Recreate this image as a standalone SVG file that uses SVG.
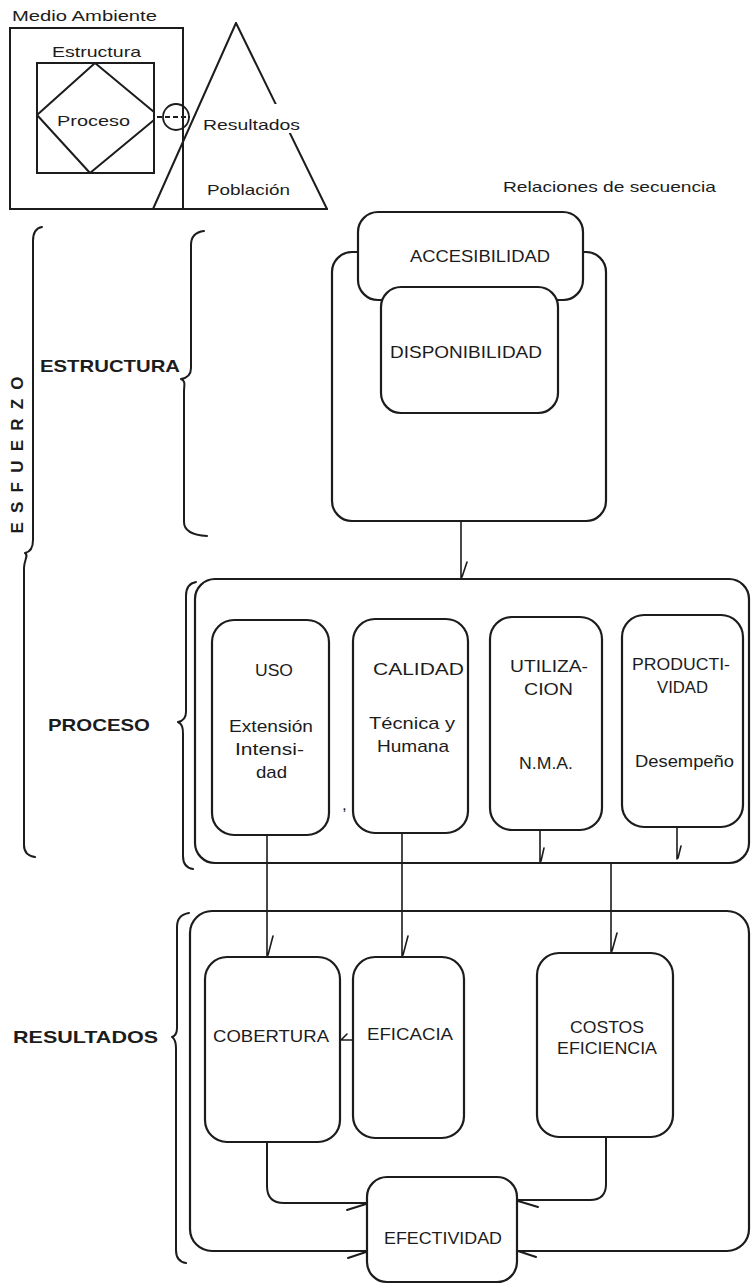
<svg xmlns="http://www.w3.org/2000/svg" width="751" height="1285" viewBox="0 0 751 1285">
  <style>
    .ln { fill: none; stroke: #1c1c1c; stroke-width: 2; stroke-linecap: round; stroke-linejoin: round; }
    .box { fill: #ffffff; stroke: #1c1c1c; stroke-width: 2.2; }
    .thin { fill: none; stroke: #1c1c1c; stroke-width: 1.6; stroke-linecap: round; }
    .t { font-family: "Liberation Sans", Arial, sans-serif; fill: #1c1c1c; font-size: 17px; }
    .s { font-family: "Liberation Sans", Arial, sans-serif; fill: #1c1c1c; font-size: 15px; }
    .b { font-family: "Liberation Sans", Arial, sans-serif; fill: #1c1c1c; font-size: 17px; font-weight: bold; }
  </style>
  <rect x="0" y="0" width="751" height="1285" fill="#ffffff"/>

  <!-- Inset sketch: environment, structure, process, results, population -->
  <g id="inset">
    <text class="s" x="12" y="21" textLength="145" lengthAdjust="spacingAndGlyphs">Medio Ambiente</text>
    <path class="ln" d="M236,23 L327,209 M236,23 L153,209"/>
    <rect x="10" y="28" width="173" height="181" fill="none" stroke="#1c1c1c" stroke-width="2"/>
    <path class="ln" d="M10,209 L327,209"/>
    <text class="s" x="52" y="57" textLength="89" lengthAdjust="spacingAndGlyphs">Estructura</text>
    <rect x="37" y="63" width="117" height="110" fill="none" stroke="#1c1c1c" stroke-width="2"/>
    <path class="ln" d="M95,63 L154,112 M154,120 L90,173 M90,173 L37,115 L95,63"/>
    <text class="s" x="57" y="126" textLength="73" lengthAdjust="spacingAndGlyphs">Proceso</text>
    <circle cx="176" cy="117" r="13" fill="none" stroke="#1c1c1c" stroke-width="1.8"/>
    <path d="M157,117 L190,117" fill="none" stroke="#1c1c1c" stroke-width="1.8" stroke-dasharray="5,3"/>
    <rect x="203" y="104" width="98" height="29" fill="#ffffff"/>
    <text class="s" x="203" y="130" textLength="97" lengthAdjust="spacingAndGlyphs">Resultados</text>
    <text class="s" x="207" y="195" textLength="83" lengthAdjust="spacingAndGlyphs">Población</text>
  </g>

  <text id="relaciones" class="s" x="503" y="192" textLength="213" lengthAdjust="spacingAndGlyphs">Relaciones de secuencia</text>

  <!-- Side labels and braces -->
  <g id="esfuerzo">
    <path class="ln" d="M42,227 C36,228 33,232 33,241 L33,540 C33,548 30,552 25,553 C29,555 24,560 24,568 L24,845 C24,852 28,856 35,857"/>
    <text class="b" transform="translate(23,455) rotate(-90)" x="0" y="0" text-anchor="middle" font-weight="normal" font-size="17" textLength="157" lengthAdjust="spacing">ESFUERZO</text>
  </g>
  <g id="label-estructura">
    <path class="ln" d="M204,231 C196,232 191,236 191,245 L191,368 C191,375 187,378 181,379 C186,381 184,385 184,392 L184,522 C184,530 190,535 207,536"/>
    <text class="b" x="40" y="372" textLength="140" lengthAdjust="spacingAndGlyphs">ESTRUCTURA</text>
  </g>
  <g id="label-proceso">
    <path class="ln" d="M196,582 C190,583 186,587 186,596 L186,712 C186,718 183,721 178,722 C182,724 183,727 183,734 L183,856 C183,864 186,868 193,869"/>
    <text class="b" x="48" y="731" textLength="102" lengthAdjust="spacingAndGlyphs">PROCESO</text>
  </g>
  <g id="label-resultados">
    <path class="ln" d="M189,913 C182,914 177,918 177,927 L177,1028 C177,1034 175,1036 172,1037 C175,1039 176,1042 176,1048 L176,1250 C176,1258 179,1262 186,1263"/>
    <text class="b" x="13" y="1043" textLength="145" lengthAdjust="spacingAndGlyphs">RESULTADOS</text>
  </g>

  <!-- Structure block -->
  <g id="estructura">
    <rect class="box" x="332" y="252" width="274" height="269" rx="20"/>
  </g>
  <g id="accesibilidad">
    <rect class="box" x="358" y="212" width="225" height="88" rx="20"/>
    <text class="t" x="410" y="262" textLength="140" lengthAdjust="spacingAndGlyphs">ACCESIBILIDAD</text>
  </g>
  <g id="disponibilidad">
    <rect class="box" x="381" y="287" width="177" height="126" rx="20"/>
    <text class="t" x="390" y="358" textLength="152" lengthAdjust="spacingAndGlyphs">DISPONIBILIDAD</text>
  </g>

  <!-- Process block -->
  <g id="proceso">
    <rect class="box" x="195" y="579" width="554" height="284" rx="20"/>
  </g>
  <g id="uso">
    <rect class="box" x="212" y="620" width="117" height="215" rx="22"/>
    <text class="t" x="255" y="676" textLength="38" lengthAdjust="spacingAndGlyphs">USO</text>
    <text class="t" x="229" y="732" textLength="84" lengthAdjust="spacingAndGlyphs">Extensión</text>
    <text class="t" x="235" y="755" textLength="69" lengthAdjust="spacingAndGlyphs">Intensi-</text>
    <text class="t" x="256" y="778" textLength="31" lengthAdjust="spacingAndGlyphs">dad</text>
  </g>
  <g id="calidad">
    <rect class="box" x="353" y="619" width="115" height="214" rx="22"/>
    <text class="t" x="373" y="675" textLength="91" lengthAdjust="spacingAndGlyphs">CALIDAD</text>
    <text class="t" x="369" y="729" textLength="86" lengthAdjust="spacingAndGlyphs">Técnica y</text>
    <text class="t" x="377" y="752" textLength="72" lengthAdjust="spacingAndGlyphs">Humana</text>
  </g>
  <text id="mark" class="t" x="342" y="810" font-size="16">,</text>
  <g id="utilizacion">
    <rect class="box" x="490" y="617" width="112" height="213" rx="22"/>
    <text class="t" x="510" y="672" textLength="78" lengthAdjust="spacingAndGlyphs">UTILIZA-</text>
    <text class="t" x="524" y="695" textLength="49" lengthAdjust="spacingAndGlyphs">CION</text>
    <text class="t" x="519" y="769" textLength="54" lengthAdjust="spacingAndGlyphs">N.M.A.</text>
  </g>
  <g id="productividad">
    <rect class="box" x="622" y="615" width="121" height="212" rx="22"/>
    <text class="t" x="632" y="670" textLength="98" lengthAdjust="spacingAndGlyphs">PRODUCTI-</text>
    <text class="t" x="657" y="693" textLength="51" lengthAdjust="spacingAndGlyphs">VIDAD</text>
    <text class="t" x="635" y="767" textLength="99" lengthAdjust="spacingAndGlyphs">Desempeño</text>
  </g>

  <!-- Results block -->
  <g id="resultados">
    <rect class="box" x="190" y="911" width="559" height="340" rx="22"/>
  </g>
  <g id="cobertura">
    <rect class="box" x="205" y="957" width="135" height="185" rx="22"/>
    <text class="t" x="213" y="1042" textLength="116" lengthAdjust="spacingAndGlyphs">COBERTURA</text>
  </g>
  <g id="eficacia">
    <rect class="box" x="353" y="957" width="111" height="181" rx="22"/>
    <text class="t" x="367" y="1040" textLength="86" lengthAdjust="spacingAndGlyphs">EFICACIA</text>
  </g>
  <g id="costos">
    <rect class="box" x="537" y="953" width="136" height="184" rx="22"/>
    <text class="t" x="570" y="1033" textLength="74" lengthAdjust="spacingAndGlyphs">COSTOS</text>
    <text class="t" x="557" y="1054" textLength="100" lengthAdjust="spacingAndGlyphs">EFICIENCIA</text>
  </g>

  <!-- Sequence connectors, each with a single-barb arrow tip -->
  <g id="connectors">
    <path class="thin" d="M461,521 L461,579 M462,577 L467,562"/>
    <path class="thin" d="M267,835 L267,956 M268,955 L273,936"/>
    <path class="thin" d="M402,833 L402,956 M403,955 L408,936"/>
    <path class="thin" d="M540,830 L540,862 M541,861 L544,848"/>
    <path class="thin" d="M677,827 L677,859 M678,858 L681,846"/>
    <path class="thin" d="M611,863 L611,952 M612,951 L617,933"/>
    <path class="thin" d="M353,1040 L341,1040 M341,1040 L347,1034"/>
    <path class="ln" d="M267,1142 L267,1186 Q267,1203 284,1203 L367,1203 M366,1204 L347,1210"/>
    <path class="ln" d="M606,1137 L606,1184 Q606,1200 590,1200 L517,1200 M518,1201 L538,1207"/>
    <path class="ln" d="M366,1252 L348,1258 M518,1251 L536,1257"/>
  </g>

  <g id="efectividad">
    <rect class="box" x="367" y="1177" width="150" height="105" rx="20"/>
    <text class="t" x="384" y="1244" textLength="118" lengthAdjust="spacingAndGlyphs">EFECTIVIDAD</text>
  </g>
</svg>
